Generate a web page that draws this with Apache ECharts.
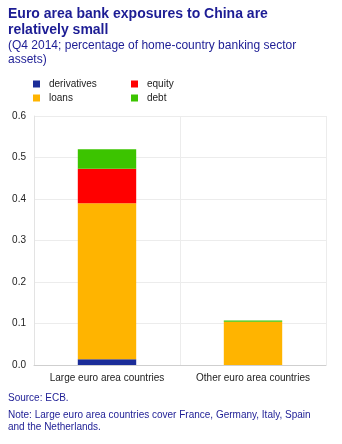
<!DOCTYPE html>
<html><head><meta charset="utf-8">
<script src="https://cdn.jsdelivr.net/npm/echarts@6/dist/echarts.min.js"></script>
<style>html,body{margin:0;padding:0;background:#fff}#c{width:342px;height:444px}</style>
</head><body><div id="c"></div>
<script>
var categories = ['Large euro area countries', 'Other euro area countries'];
var derivatives = [0.014, 0.0];
var loans = [0.376, 0.104];
var equity = [0.083, 0.0];
var debt = [0.047, 0.003];
var yTicks = [0, 0.1, 0.2, 0.3, 0.4, 0.5, 0.6];

var BLUE = '#1c1c94';
var colors = {derivatives:'#1b2d99', loans:'#ffb400', equity:'#ff0000', debt:'#3cc400'};
var font = 'Liberation Sans, Arial, sans-serif';

function legendAt(name, left, top) {
  return {
    data: [name], left: left, top: top, icon: 'rect', itemWidth: 7, itemHeight: 7,
    textStyle: {fontFamily: font, fontSize: 10, color: '#222', padding: [0,0,0,4]},
    selectedMode: false, padding: 0
  };
}
function bar(name, data) {
  return {name: name, type: 'bar', stack: 's', data: data, barWidth: '40%',
    itemStyle: {color: colors[name]}, emphasis: {disabled: true}};
}

var chart = echarts.init(document.getElementById('c'), null, {renderer: 'canvas'});
chart.setOption({
  animation: false,
  title: {
    text: 'Euro area bank exposures to China are\nrelatively small',
    subtext: '(Q4 2014; percentage of home-country banking sector\nassets)',
    left: 8, top: 6, padding: 0, itemGap: 1,
    textStyle: {fontFamily: font, fontSize: 14, fontWeight: 'bold', color: BLUE, lineHeight: 16},
    subtextStyle: {fontFamily: font, fontSize: 12, color: BLUE, lineHeight: 14}
  },
  legend: [
    legendAt('derivatives', 33, 79),
    legendAt('equity', 131, 79),
    legendAt('loans', 33, 93),
    legendAt('debt', 131, 93)
  ],
  grid: {left: 34, right: 16, top: 116, bottom: 79},
  xAxis: {
    type: 'category', data: categories,
    axisLine: {lineStyle: {color: '#cfcfcf'}},
    axisTick: {show: false},
    axisLabel: {fontFamily: font, fontSize: 10, color: '#222', margin: 8, interval: 0},
    splitLine: {show: true, interval: 0, lineStyle: {color: '#ececec'}}
  },
  yAxis: {
    type: 'value', min: yTicks[0], max: yTicks[yTicks.length-1], interval: 0.1,
    axisLine: {show: true, lineStyle: {color: '#e3e3e3'}},
    axisTick: {show: false},
    axisLabel: {fontFamily: font, fontSize: 10, color: '#222', margin: 8,
      formatter: function (v) { return v.toFixed(1); }},
    splitLine: {lineStyle: {color: '#ececec'}}
  },
  series: [
    bar('derivatives', derivatives),
    bar('loans', loans),
    bar('equity', equity),
    bar('debt', debt)
  ],
  graphic: [
    {type: 'text', left: 8, top: 393, style: {text: 'Source: ECB.', fontFamily: font, fontSize: 10, fill: BLUE}},
    {type: 'text', left: 8, top: 409, style: {text: 'Note: Large euro area countries cover France, Germany, Italy, Spain\nand the Netherlands.', fontFamily: font, fontSize: 10, lineHeight: 12, fill: BLUE}}
  ]
});
</script></body></html>
